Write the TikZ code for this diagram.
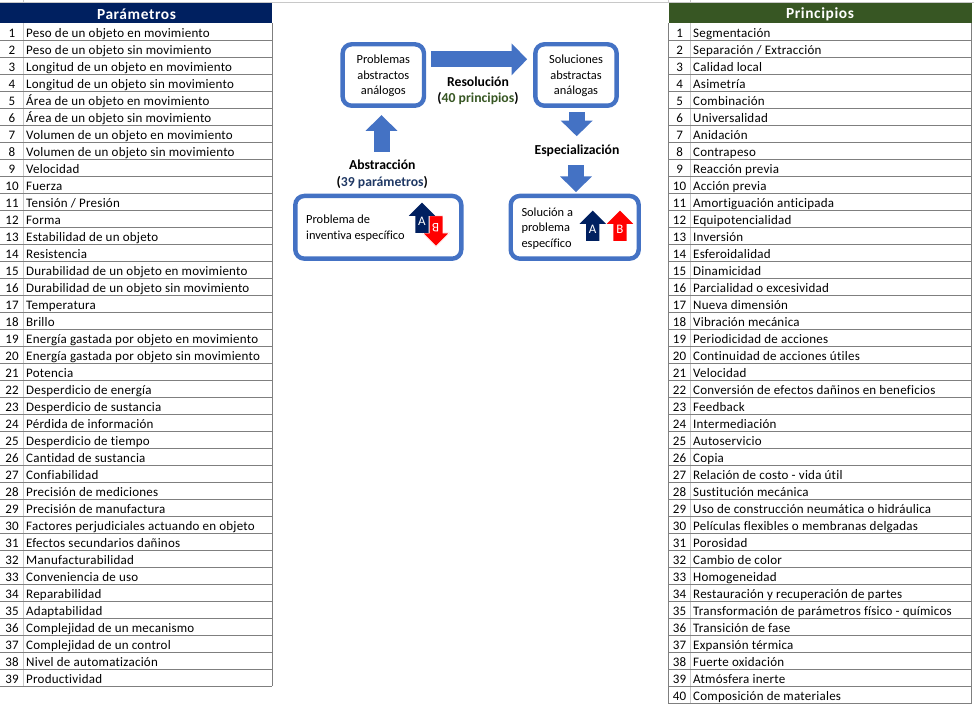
\documentclass[tikz,border=0pt]{standalone}
\usepackage{fontspec}
\usetikzlibrary{arrows.meta,shapes.arrows}
\setmainfont[Ligatures=NoCommon]{Carlito}
\newfontfamily\cellfont[LetterSpace=1.8,Ligatures=NoCommon]{Carlito}
\newfontfamily\headfont[LetterSpace=4,Ligatures=NoCommon]{Carlito}
\definecolor{navy}{HTML}{002060}
\definecolor{forest}{HTML}{375623}
\definecolor{block}{HTML}{4472C4}
\definecolor{labnavy}{HTML}{1F3864}
\definecolor{rowline}{HTML}{7F7F7F}
\definecolor{sepline}{HTML}{C8C8C8}
\tikzset{
  x=1pt,y=-1pt,
  cell/.style={inner sep=0pt,text=black,font=\cellfont\fontsize{13}{16}\selectfont},
  celltext/.style={cell,anchor=base west},
  cellnum/.style={cell,anchor=base},
  header/.style={inner sep=0pt,text=white,font=\headfont\bfseries\fontsize{15.4}{17}\selectfont},
  headband/.style={inner sep=0pt,anchor=north west,minimum height=20.3pt},
  rowrule/.style={draw=rowline,line width=1pt},
  colrule/.style={draw=sepline,line width=.8pt},
  grid/.style={draw=sepline,line width=.8pt},
  card/.style={draw=block,line width=4.4pt,fill=white,rounded corners=9pt,inner sep=0pt},
  cardtext/.style={inner sep=0pt,font=\fontsize{12.4}{15.5}\selectfont},
  blockarrow/.style={draw=block,line width=16pt,-{Triangle[width=31pt,length=15.6pt,fill=block]}},
  steplabel/.style={inner sep=0pt,font=\bfseries\fontsize{13.7}{17}\selectfont,text=black},
  mini/.style={single arrow,single arrow head extend=6.5pt,minimum height=30.4pt,
    inner sep=6.5pt,anchor=tip,shape border rotate=#1},
  miniletter/.style={inner sep=0pt,text=white,font=\fontsize{13}{14}\selectfont},
}
\begin{document}
\begin{tikzpicture}
\useasboundingbox (0,0) rectangle (974,708);
% faint sheet gridlines above the tables
\draw[grid] (0,2.3) -- (974,2.3);
\draw[grid] (23.7,0) -- (23.7,2.3);
\draw[grid] (668.3,0) -- (668.3,2.3);
\draw[grid] (690.3,0) -- (690.3,2.3);

% left table
\node[headband,fill=navy,minimum width=272pt] (lefthead) at (0,3) {};
\node[header] (lefttitle) at (136.5,14.5) {Parámetros};
\draw[colrule] (23.7,23.3) -- (23.7,686.3);
\foreach \t [count=\i] in {Peso de un objeto en movimiento,Peso de un objeto sin movimiento,Longitud de un objeto en movimiento,Longitud de un objeto sin movimiento,Área de un objeto en movimiento,Área de un objeto sin movimiento,Volumen de un objeto en movimiento,Volumen de un objeto sin movimiento,Velocidad,Fuerza,Tensión / Presión,Forma,Estabilidad de un objeto,Resistencia,Durabilidad de un objeto en movimiento,Durabilidad de un objeto sin movimiento,Temperatura,Brillo,Energía gastada por objeto en movimiento,Energía gastada por objeto sin movimiento,Potencia,Desperdicio de energía,Desperdicio de sustancia,Pérdida de información,Desperdicio de tiempo,Cantidad de sustancia,Confiabilidad,Precisión de mediciones,Precisión de manufactura,Factores perjudiciales actuando en objeto,Efectos secundarios dañinos,Manufacturabilidad,Conveniencia de uso,Reparabilidad,Adaptabilidad,Complejidad de un mecanismo,Complejidad de un control,Nivel de automatización,Productividad}{
  \pgfmathsetmacro{\yb}{23.3+17*\i-2.6}
  \pgfmathsetmacro{\yl}{23.3+17*\i}
  \node[cellnum] (ln\i) at (12,\yb) {\i};
  \node[celltext] (lt\i) at (26,\yb) {\t};
  \draw[rowrule] (0,\yl) -- (272,\yl);
}
\draw[rowrule] (272,23.3) -- (272,686.3);

% right table
\node[headband,fill=forest,minimum width=303.4pt] (righthead) at (668.3,3) {};
\node[header] (righttitle) at (820,14.5) {Principios};
\draw[colrule] (690.3,23.3) -- (690.3,703.3);
\foreach \t [count=\i] in {Segmentación,Separación / Extracción,Calidad local,Asimetría,Combinación,Universalidad,Anidación,Contrapeso,Reacción previa,Acción previa,Amortiguación anticipada,Equipotencialidad,Inversión,Esferoidalidad,Dinamicidad,Parcialidad o excesividad,Nueva dimensión,Vibración mecánica,Periodicidad de acciones,Continuidad de acciones útiles,Velocidad,Conversión de efectos dañinos en beneficios,Feedback,Intermediación,Autoservicio,Copia,Relación de costo - vida útil,Sustitución mecánica,Uso de construcción neumática o hidráulica,Películas flexibles o membranas delgadas,Porosidad,Cambio de color,Homogeneidad,Restauración y recuperación de partes,Transformación de parámetros físico - químicos,Transición de fase,Expansión térmica,Fuerte oxidación,Atmósfera inerte,Composición de materiales}{
  \pgfmathsetmacro{\yb}{23.3+17*\i-2.6}
  \pgfmathsetmacro{\yl}{23.3+17*\i}
  \node[cellnum] (rn\i) at (679.6,\yb) {\i};
  \node[celltext] (rt\i) at (693,\yb) {\t};
  \draw[rowrule] (668.3,\yl) -- (971.7,\yl);
}
\draw[rowrule] (668.3,23.3) -- (668.3,703.3);
\draw[rowrule] (971.7,23.3) -- (971.7,703.3);

% cards
\node[card,minimum width=81.3pt,minimum height=61.4pt] (pa) at (383.3,75) {};
\node[cardtext,align=center] (patext) at (383.3,76.2) {Problemas\\abstractos\\análogos};
\node[card,minimum width=81.3pt,minimum height=61.4pt] (sa) at (576,75) {};
\node[cardtext,align=center] (satext) at (576,76.2) {Soluciones\\abstractas\\análogas};
\node[card,minimum width=166pt,minimum height=62.7pt] (pi) at (378.3,227.3) {};
\node[cardtext,align=left,anchor=west] (pitext) at (306,228.2) {Problema de\\inventiva específico};
\node[card,minimum width=128pt,minimum height=62.7pt] (si) at (574.7,227.3) {};
\node[cardtext,align=left,anchor=west] (sitext) at (521.3,228.2) {Solución a\\problema\\específico};

% labels
\node[steplabel,minimum height=17pt] (abs) at (382.3,164.5) {Abstracción};
\node[steplabel,minimum height=17pt] (absp) at (382.3,182.2) {(\textcolor{labnavy}{39 parámetros})};
\node[steplabel,minimum height=17pt] (res) at (478,82.2) {Resolución};
\node[steplabel,minimum height=17pt] (resp) at (478,98.8) {(\textcolor{forest}{40 principios})};
\node[steplabel,minimum height=26pt] (esp) at (577,151.2) {Especialización};

% block connectors
\draw[blockarrow,shorten <=5pt,shorten >=6pt] ([yshift=15.7pt]pa.east) -- ([yshift=15.7pt]sa.west);
\draw[blockarrow,shorten <=42pt,shorten >=7.3pt] ([xshift=3.2pt]pi.north) -- ([xshift=-1.8pt]pa.south);
\draw[blockarrow,shorten <=4.3pt,shorten >=1.8pt] ([xshift=.7pt]sa.south) -- ([xshift=-.3pt]esp.north);
\draw[blockarrow,shorten <=.8pt,shorten >=1.7pt] ([xshift=-1pt]esp.south) -- ([xshift=1.3pt]si.north);

% small up/down arrows
\node[mini=270,fill=red,draw=white,line width=.6pt] (pb) at (436,246.7) {};
\node[miniletter,rotate=180] (pbl) at (435.7,227.7) {B};
\node[mini=90,fill=navy] (pav) at (422,202.3) {};
\node[miniletter] (pal) at (422,221) {A};
\node[mini=90,fill=navy] (sav) at (592.7,210.3) {};
\node[miniletter] (sal) at (592.7,229) {A};
\node[mini=90,fill=red] (sbv) at (620,210.3) {};
\node[miniletter] (sbl) at (620,229) {B};
\end{tikzpicture}
\end{document}
